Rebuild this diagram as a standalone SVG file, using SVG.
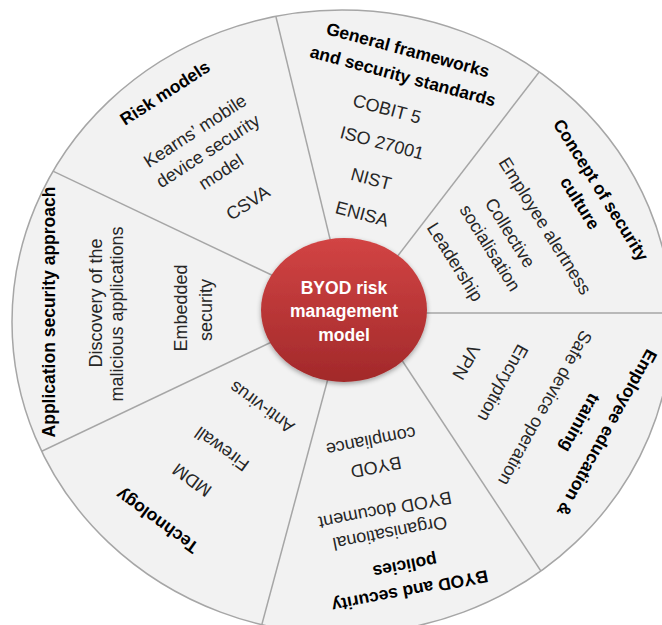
<svg xmlns="http://www.w3.org/2000/svg" width="662" height="625" viewBox="0 0 662 625">
<defs>
<style>
.t{font-family:"Liberation Sans",Arial,sans-serif;font-weight:bold;font-size:17.5px;fill:#000;text-anchor:middle;dominant-baseline:central}
.b{font-family:"Liberation Sans",Arial,sans-serif;font-size:18px;fill:#262626;text-anchor:middle;dominant-baseline:central}
.c{font-family:"Liberation Sans",Arial,sans-serif;font-weight:bold;font-size:17.5px;fill:#fff;text-anchor:middle;dominant-baseline:central}
.spoke{stroke:#a6a6a6;stroke-width:1.5;fill:none}
</style>
<clipPath id="rimClip"><ellipse cx="342" cy="322" rx="330" ry="312"/></clipPath>
<linearGradient id="red" x1="0" y1="0" x2="0" y2="1">
<stop offset="0" stop-color="#d24444"/>
<stop offset="1" stop-color="#a2292a"/>
</linearGradient>
<filter id="sh" x="-20%" y="-20%" width="140%" height="150%">
<feGaussianBlur in="SourceAlpha" stdDeviation="2.5"/>
<feOffset dy="2"/>
<feComponentTransfer><feFuncA type="linear" slope="0.35"/></feComponentTransfer>
<feMerge><feMergeNode/><feMergeNode in="SourceGraphic"/></feMerge>
</filter>
</defs>
<rect width="662" height="625" fill="#fff"/>
<ellipse id="wheel" cx="342" cy="322" rx="330" ry="312" fill="#f2f2f2" stroke="#a6a6a6" stroke-width="1.5"/>
<g id="connectors" class="spoke" clip-path="url(#rimClip)">
<line x1="340" y1="280" x2="267" y2="-20"/>
<line x1="370" y1="292" x2="570" y2="32"/>
<line x1="410" y1="313" x2="700" y2="313"/>
<line x1="380" y1="327" x2="560" y2="600"/>
<line x1="337" y1="345" x2="255" y2="650"/>
<line x1="320" y1="319" x2="0" y2="471"/>
<line x1="320" y1="298" x2="0" y2="146"/>
</g>
<g id="risk-models">
<text class="t" transform="translate(165 93) rotate(-33)">Risk models</text>
<text class="b" transform="translate(195 131) rotate(-33)">Kearns’ mobile</text>
<text class="b" transform="translate(208 151) rotate(-33)">device security</text>
<text class="b" transform="translate(221 172) rotate(-33)">model</text>
<text class="b" transform="translate(248 203) rotate(-33)">CSVA</text>
</g>
<g id="general-frameworks">
<text class="t" transform="translate(408 50) rotate(15)">General frameworks</text>
<text class="t" transform="translate(403 76) rotate(15)">and security standards</text>
<text class="b" transform="translate(387 109) rotate(15)">COBIT 5</text>
<text class="b" transform="translate(382 143) rotate(15)">ISO 27001</text>
<text class="b" transform="translate(371 179) rotate(15)">NIST</text>
<text class="b" transform="translate(362 214) rotate(15)">ENISA</text>
</g>
<g id="security-culture">
<text class="t" transform="translate(601 190) rotate(58)">Concept of security</text>
<text class="t" transform="translate(580 203) rotate(58)">culture</text>
<text class="b" transform="translate(545 226) rotate(58)">Employee alertness</text>
<text class="b" transform="translate(510 233) rotate(58)">Collective</text>
<text class="b" transform="translate(490 248) rotate(58)">socialisation</text>
<text class="b" transform="translate(455 262) rotate(58)">Leadership</text>
</g>
<g id="employee-education">
<text class="t" transform="translate(607 433) rotate(119)">Employee education &amp;</text>
<text class="t" transform="translate(580 423) rotate(119)">training</text>
<text class="b" transform="translate(545 408) rotate(119)">Safe device operation</text>
<text class="b" transform="translate(503 383) rotate(119)">Encryption</text>
<text class="b" transform="translate(466 362) rotate(119)">VPN</text>
</g>
<g id="byod-policies">
<text class="t" transform="translate(410 591) rotate(169)">BYOD and security</text>
<text class="t" transform="translate(405 566) rotate(169)">policies</text>
<text class="b" transform="translate(390 533) rotate(169)">Organisational</text>
<text class="b" transform="translate(385 510) rotate(169)">BYOD document</text>
<text class="b" transform="translate(376 467) rotate(169)">BYOD</text>
<text class="b" transform="translate(371 441) rotate(169)">compliance</text>
</g>
<g id="technology">
<text class="t" transform="translate(157 521) rotate(-144)">Technology</text>
<text class="b" transform="translate(192 480) rotate(-144)">MDM</text>
<text class="b" transform="translate(222 449) rotate(-144)">Firewall</text>
<text class="b" transform="translate(262 407) rotate(-144)">Anti-virus</text>
</g>
<g id="application-security">
<text class="t" transform="translate(49 312) rotate(-90)">Application security approach</text>
<text class="b" transform="translate(96 303) rotate(-90)">Discovery of the</text>
<text class="b" transform="translate(117 314) rotate(-90)">malicious applications</text>
<text class="b" transform="translate(181 308) rotate(-90)">Embedded</text>
<text class="b" transform="translate(206 310) rotate(-90)">security</text>
</g>
<g id="center-node">
<ellipse cx="344" cy="310" rx="83" ry="72" fill="url(#red)" filter="url(#sh)"/>
<text class="c" x="344" y="288">BYOD risk</text>
<text class="c" x="344" y="311">management</text>
<text class="c" x="344" y="335">model</text>
</g>
</svg>
